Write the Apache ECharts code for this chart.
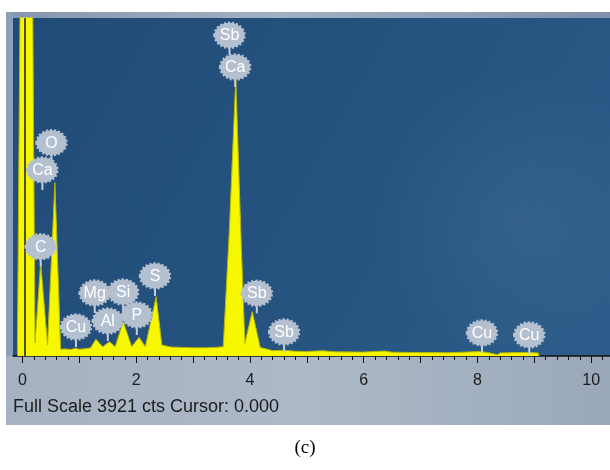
<!DOCTYPE html>
<html>
<head>
<meta charset="utf-8">
<script src="https://cdn.jsdelivr.net/npm/echarts@6/dist/echarts.min.js"></script>
<style>
html, body { margin: 0; padding: 0; background: #fff; }
#main { width: 610px; height: 470px; }
</style>
</head>
<body>
<div id="main"></div>
<script>
// EDS spectrum (keV / counts)
var energy = [-0.09, -0.02, 0.06, 0.16, 0.22, 0.32, 0.44, 0.57, 0.67, 0.75, 0.85, 0.93, 1.0, 1.1, 1.2,
	1.29, 1.41, 1.53, 1.63, 1.77, 1.92, 2.05, 2.16, 2.35, 2.45, 2.6, 2.8, 3.0, 3.2, 3.4, 3.53,
	3.64, 3.75, 3.835, 3.91, 4.04, 4.18, 4.4, 4.6, 4.8, 5.0, 5.27, 5.5, 6.0, 6.37, 6.5, 7.0,
	7.5, 8.05, 8.2, 8.35, 8.4, 8.9, 9.07, 9.08];
var counts = [40, 6000, 8000, 6000, 150, 1079, 128, 2010, 78, 82, 76, 90, 78, 85, 95,
	194, 108, 166, 108, 398, 108, 217, 108, 688, 128, 105, 100, 95, 95, 100, 108,
	1500, 3221, 1500, 147, 514, 100, 62, 66, 55, 52, 60, 48, 45, 58, 44, 40,
	38, 52, 38, 15, 36, 42, 34, 0];

// element markers
var peakNames = ['Sb', 'Ca', 'O', 'Ca', 'C', 'Cu', 'Mg', 'Al', 'Si', 'P', 'S', 'Sb', 'Sb', 'Cu', 'Cu'];
var peakEnergy = [3.64, 3.74, 0.51, 0.35, 0.32, 0.94, 1.27, 1.50, 1.77, 2.01, 2.33, 4.12, 4.60, 8.08, 8.91];
var peakCounts = [3720, 3352, 2474, 2158, 1268, 336, 731, 406, 742, 476, 928, 727, 278, 267, 244];

var tickLabels = ['0', '2', '4', '6', '8', '10'];
var fullScale = 3921;
var cursor = 0.04;

var spectrum = energy.map(function (e, i) { return [e, counts[i]]; });
var markers = peakEnergy.map(function (e, i) { return [e, peakCounts[i]]; });

var chart = echarts.init(document.getElementById('main'), null, { renderer: 'canvas' });

var option = {
	animation: false,
	grid: [
		{ left: 13, right: 0, top: 18, bottom: 114 },
		{ left: 22.5, right: 7.4, top: 18, bottom: 114 },
		{ left: 22.5, right: 18.8, top: 18, bottom: 114 }
	],
	xAxis: [
		{
			gridIndex: 0, type: 'value', min: -0.167, max: 10.33,
			axisLine: { show: true, onZero: false, lineStyle: { color: '#111', width: 1.5 } },
			axisTick: { show: false }, axisLabel: { show: false }, splitLine: { show: false }
		},
		{
			gridIndex: 1, type: 'value', min: 0, max: 10.2, interval: 0.2,
			axisLine: { show: false },
			axisTick: { show: true, length: 4, lineStyle: { color: '#111', width: 1 } },
			axisLabel: { show: false }, splitLine: { show: false }
		},
		{
			gridIndex: 2, type: 'value', min: 0, max: 10, interval: 1,
			axisLine: { show: false },
			axisTick: { show: true, length: 7, lineStyle: { color: '#111', width: 1 } },
			axisLabel: {
				show: true, margin: 17, color: '#1c1c1c', fontSize: 16,
				fontFamily: 'Liberation Sans',
				formatter: function (v) {
					var s = String(Math.round(v));
					return tickLabels.indexOf(s) >= 0 && Math.abs(v - Math.round(v)) < 1e-6 ? s : '';
				}
			},
			splitLine: { show: false }
		}
	],
	yAxis: [
		{ gridIndex: 0, type: 'value', min: 0, max: fullScale, show: false },
		{ gridIndex: 1, type: 'value', min: 0, max: 1, show: false },
		{ gridIndex: 2, type: 'value', min: 0, max: 1, show: false }
	],
	graphic: {
		elements: [
			// outer window
			{ type: 'rect', z: -10, shape: { x: 6, y: 12, width: 604, height: 413 },
				style: { fill: new echarts.graphic.LinearGradient(0, 0, 1, 0, [
					{ offset: 0, color: '#a6b2c2' }, { offset: 0.5, color: '#adb9c8' }, { offset: 1, color: '#9aa8ba' }]) } },
			{ type: 'rect', z: -9, shape: { x: 6, y: 12, width: 604, height: 6 },
				style: { fill: new echarts.graphic.LinearGradient(0, 0, 1, 0, [
					{ offset: 0, color: '#8496b0' }, { offset: 0.45, color: '#a3b0c3' }, { offset: 1, color: '#7f91ab' }]) } },
			{ type: 'rect', z: -9, shape: { x: 6, y: 12, width: 7, height: 344 },
				style: { fill: '#8d9ebb' } },
			// plot background
			{ type: 'rect', z: -8, shape: { x: 13, y: 18, width: 597, height: 338 },
				style: { fill: new echarts.graphic.LinearGradient(0, 0, 1, 1, [
					{ offset: 0, color: '#214b77' }, { offset: 0.5, color: '#25527f' }, { offset: 1, color: '#2c5d8a' }]) } },
			{ type: 'circle', z: -7, shape: { cx: 520, cy: 220, r: 150 },
				style: { fill: new echarts.graphic.RadialGradient(0.5, 0.5, 0.5, [
					{ offset: 0, color: 'rgba(255,255,255,0.05)' }, { offset: 1, color: 'rgba(255,255,255,0)' }]) } },
			{ type: 'text', z: 5, x: 13, y: 407,
				style: { text: 'Full Scale ' + fullScale + ' cts Cursor: 0.000', fill: '#1c1c1c',
					font: '18px "Liberation Sans"', verticalAlign: 'middle', align: 'left' } },
			{ type: 'text', z: 5, x: 305, y: 448,
				style: { text: '(c)', fill: '#000', font: '19px "Liberation Serif"',
					verticalAlign: 'middle', align: 'center' } }
		]
	},
	series: [
		{
			type: 'line', xAxisIndex: 0, yAxisIndex: 0, data: spectrum,
			symbol: 'none', clip: true, z: 3,
			lineStyle: { color: '#b8b800', width: 1 },
			areaStyle: { color: '#f7f700', opacity: 1 },
			markLine: {
				silent: true, symbol: 'none', label: { show: false },
				lineStyle: { color: '#1a1a1a', width: 1.5, type: 'solid' },
				data: [{ xAxis: cursor }]
			}
		},
		{
			type: 'custom', xAxisIndex: 0, yAxisIndex: 0, data: markers, z: 6, clip: false,
			renderItem: function (params, api) {
				var p = api.coord([api.value(0), api.value(1)]);
				return {
					type: 'group',
					children: [
						{ type: 'line', shape: { x1: p[0], y1: p[1] + 10, x2: p[0], y2: p[1] + 20 },
							style: { stroke: '#c6cfdc', lineWidth: 2 } },
						{ type: 'ellipse', shape: { cx: p[0], cy: p[1], rx: 15, ry: 12.5 },
							style: { fill: '#b4c0d0', stroke: '#b4c0d0', lineWidth: 2.5, lineDash: [2, 2] } },
						{ type: 'text', x: p[0], y: p[1] + 0.5,
							style: { text: peakNames[params.dataIndex], fill: '#ffffff',
								font: '16px "Liberation Sans"', align: 'center', verticalAlign: 'middle' } }
					]
				};
			}
		}
	]
};

chart.setOption(option);
</script>
</body>
</html>
